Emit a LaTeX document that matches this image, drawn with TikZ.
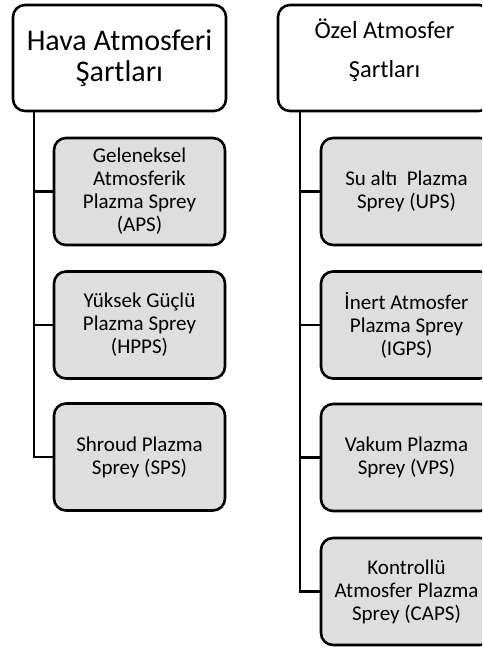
\documentclass[tikz,border=0pt]{standalone}
\usepackage{fontspec}
\setmainfont{Carlito}
\definecolor{boxgray}{RGB}{222,222,222}
\begin{document}
\begin{tikzpicture}[x=1pt,y=-1pt,
  box/.style={draw=black, line width=2.6pt, rounded corners=12pt, inner sep=0pt, align=center, text=black},
  head/.style={box, fill=white, minimum width=213pt, minimum height=106pt},
  child/.style={box, fill=boxgray, minimum width=171pt, minimum height=107pt, font=\fontsize{21}{23}\selectfont},
  conn/.style={draw=black, line width=2.6pt}]
\useasboundingbox (0,0) rectangle (482,648);
\clip (0,0) rectangle (482,648);
% headers
\node[head, font=\fontsize{30}{31}\selectfont] (h1) at (119.5,58) {Hava Atmosferi\\Şartları};
\node[head] (h2) at (384.5,58) {};
\node[align=center, font=\fontsize{24.5}{27}\selectfont, text=black] (h2t) at (384.5,50) {Özel Atmosfer\\[12pt]Şartları};
% left children
\node[child] (a1) at (139.5,191.5) {Geleneksel\\Atmosferik\\Plazma Sprey\\(APS)};
\node[child] (a2) at (139.5,325) {Yüksek Güçlü\\Plazma Sprey\\(HPPS)};
\node[child] (a3) at (139.5,457) {Shroud Plazma\\Sprey (SPS)};
% right children
\node[child] (b1) at (406.5,191.5) {Su altı\ \ Plazma\\Sprey (UPS)};
\node[child] (b2) at (406.5,325) {İnert Atmosfer\\Plazma Sprey\\(IGPS)};
\node[child] (b3) at (406.5,457.5) {Vakum Plazma\\Sprey (VPS)};
\node[child] (b4) at (406.5,591.5) {Kontrollü\\Atmosfer Plazma\\Sprey (CAPS)};
% connectors
\coordinate (lx) at (34,0);
\coordinate (rx) at (300,0);
\draw[conn] (lx |- h1.south) |- (a3.west);
\draw[conn] (lx |- a1.west) -- (a1.west);
\draw[conn] (lx |- a2.west) -- (a2.west);
\draw[conn] (rx |- h2.south) |- (b4.west);
\draw[conn] (rx |- b1.west) -- (b1.west);
\draw[conn] (rx |- b2.west) -- (b2.west);
\draw[conn] (rx |- b3.west) -- (b3.west);
\end{tikzpicture}
\end{document}
